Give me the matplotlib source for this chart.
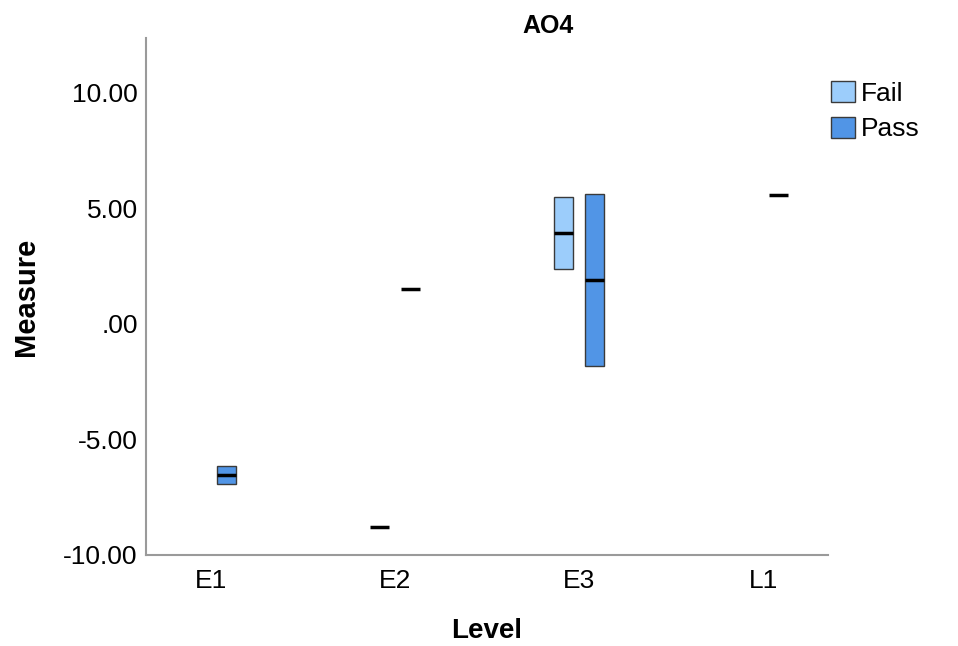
import numpy as np
import matplotlib
matplotlib.use('Agg')
import matplotlib.pyplot as plt
from matplotlib.patches import Patch

plt.rcParams['font.family'] = ['Liberation Sans', 'DejaVu Sans']

levels = ['E1', 'E2', 'E3', 'L1']
# box stats (nan = no data for that group)
fail_q1 = [np.nan, -8.78, 2.38, np.nan]
fail_med = [np.nan, -8.78, 3.95, np.nan]
fail_q3 = [np.nan, -8.78, 5.51, np.nan]
pass_q1 = [-6.93, 1.50, -1.82, 5.57]
pass_med = [-6.55, 1.50, 1.90, 5.57]
pass_q3 = [-6.16, 1.50, 5.61, 5.57]

fail_col = '#9ccdfb'
pass_col = '#5195e6'
edge_col = '#3a3a3a'

fig = plt.figure(figsize=(9.58, 6.46), dpi=100)
ax = fig.add_axes([146/958, 1-555/646, (828-146)/958, (555-38)/646])

x = np.arange(len(levels))
w = 0.105
off = 0.085

def draw(xpos, q1, med, q3, col):
    for xi, a, m, b in zip(xpos, q1, med, q3):
        if np.isnan(m):
            continue
        if b - a > 0:
            ax.bar(xi, b - a, bottom=a, width=w, color=col, edgecolor=edge_col,
                   linewidth=1.0, zorder=2)
        ax.hlines(m, xi - w/2, xi + w/2, colors='black', linewidth=2.5, zorder=3)

draw(x - off, fail_q1, fail_med, fail_q3, fail_col)
draw(x + off, pass_q1, pass_med, pass_q3, pass_col)

ax.set_xlim(-0.353, 3.353)
ax.set_ylim(-10, 12.38)
ax.set_xticks(x)
ax.set_xticklabels(levels)
ax.set_yticks([-10, -5, 0, 5, 10])
ax.set_yticklabels(['-10.00', '-5.00', '.00', '5.00', '10.00'])
ax.tick_params(axis='y', length=0, labelsize=19, pad=6)
ax.tick_params(axis='x', length=0, labelsize=19, pad=10)

for s in ['top', 'right']:
    ax.spines[s].set_visible(False)
for s in ['left', 'bottom']:
    ax.spines[s].set_color('#9a9a9a')
    ax.spines[s].set_linewidth(1.5)

ax.set_title('AO4', fontsize=18, fontweight='bold', x=0.589, pad=3)
ax.set_xlabel('Level', fontsize=20, fontweight='bold', labelpad=18)
ax.set_ylabel('Measure', fontsize=21, fontweight='bold', labelpad=17)

handles = [Patch(facecolor=fail_col, edgecolor=edge_col, linewidth=1.0, label='Fail'),
           Patch(facecolor=pass_col, edgecolor=edge_col, linewidth=1.0, label='Pass')]
fig.legend(handles=handles, loc='upper left', bbox_to_anchor=(831/958, 1-81/646),
           frameon=False, fontsize=19, borderpad=0, borderaxespad=0,
           handlelength=0.9, handleheight=0.85, handletextpad=0.25, labelspacing=0.42)

fig.savefig('out.png', dpi=100)
